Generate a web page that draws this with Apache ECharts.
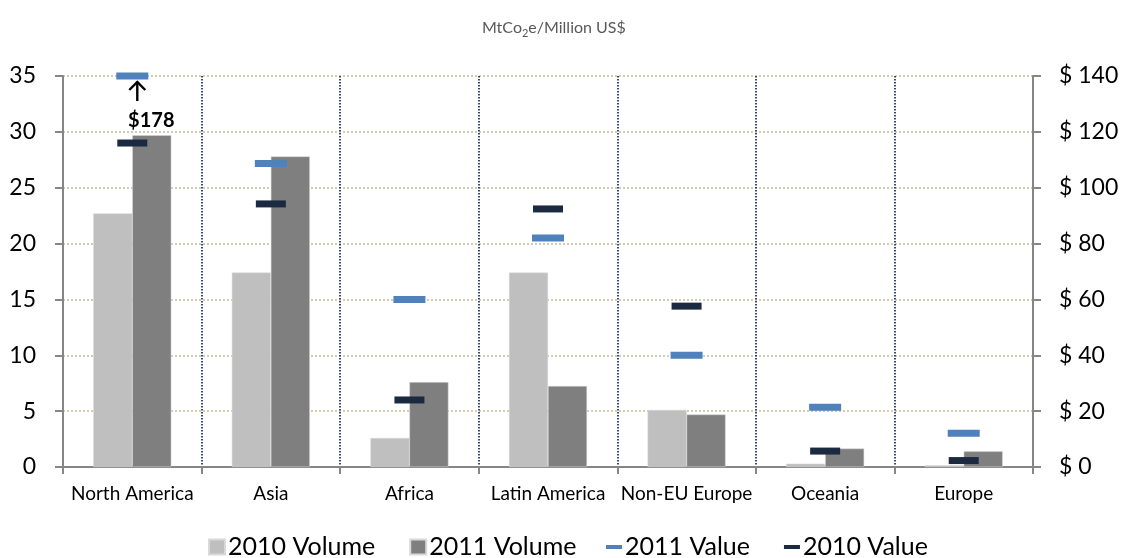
<!DOCTYPE html>
<html>
<head>
<meta charset="utf-8">
<script src="https://cdn.jsdelivr.net/npm/echarts@6/dist/echarts.min.js"></script>
<style>
html,body{margin:0;padding:0;background:#fff;}
#c{width:1122px;height:558px;}
</style>
</head>
<body>
<div id="c"></div>
<script>
var categories = ['North America', 'Asia', 'Africa', 'Latin America', 'Non-EU Europe', 'Oceania', 'Europe'];
var volume2010 = [22.7, 17.4, 2.6, 17.4, 5.1, 0.3, 0.15];
var volume2011 = [29.7, 27.8, 7.6, 7.25, 4.7, 1.65, 1.4];
var value2011 = [178, 108.7, 60, 82, 40, 21.4, 12.1];
var value2010 = [116, 94.2, 24, 92.4, 57.6, 5.7, 2.3];
var leftTicks = [0, 35, 5];
var rightTicks = [0, 140, 20];

var FONT = 'Lato, "Open Sans", sans-serif';
var rightMax = rightTicks[1];

var chart = echarts.init(document.getElementById('c'), null, {renderer: 'canvas'});

var val2011Data = value2011.map(function (v, i) {
  var item = {value: Math.min(v, rightMax)};
  if (v > rightMax) {
    item.label = {
      show: true, position: 'bottom', distance: 31, offset: [19, 0],
      formatter: '$' + v, fontFamily: FONT, fontWeight: 'bold', fontSize: 20, color: '#000'
    };
  }
  return item;
});

var option = {
  animation: false,
  textStyle: {fontFamily: FONT},
  title: {
    text: '{a|MtCo}{s|2}{a|e/Million US$}',
    left: 477, top: 15,
    textStyle: {
      fontWeight: 'normal',
      rich: {
        a: {fontSize: 16, color: '#595959', fontFamily: FONT, fontWeight: 'normal', verticalAlign: 'bottom'},
        s: {fontSize: 11, color: '#595959', fontFamily: FONT, fontWeight: 'normal', verticalAlign: 'bottom', padding: [0, 0, -3, 0]}
      }
    }
  },
  legend: [{
    data: ['2010 Volume', '2011 Volume'],
    left: 208, top: 534, padding: 0, itemWidth: 16, itemHeight: 15, itemGap: 34,
    icon: 'rect',
    textStyle: {fontSize: 25, lineHeight: 26, color: '#000', fontFamily: FONT, padding: [0, 0, 0, -2]}
  }, {
    data: ['2011 Value', '2010 Value'],
    left: 606, top: 534, padding: 0, itemWidth: 16, itemHeight: 4, itemGap: 34,
    icon: 'rect',
    textStyle: {fontSize: 25, lineHeight: 26, color: '#000', fontFamily: FONT, padding: [0, 0, 0, -2]}
  }],
  grid: {left: 63, right: 89, top: 76, bottom: 91, containLabel: false},
  xAxis: {
    type: 'category',
    data: categories,
    axisLine: {lineStyle: {color: '#868686', width: 2}},
    axisTick: {show: true, interval: 0, length: 7, lineStyle: {color: '#868686', width: 2}},
    axisLabel: {interval: 0, fontSize: 19, color: '#000', margin: 17, fontFamily: FONT},
    splitLine: {show: true, interval: 0, lineStyle: {color: '#1f3864', width: 1.8, type: [1.5, 1.5]}}
  },
  yAxis: [{
    type: 'value', min: leftTicks[0], max: leftTicks[1], interval: leftTicks[2],
    axisLine: {show: true, lineStyle: {color: '#868686', width: 2}},
    axisTick: {show: true, length: 8, lineStyle: {color: '#868686', width: 2}},
    axisLabel: {fontSize: 23, color: '#000', margin: 27, fontFamily: FONT},
    splitLine: {show: true, lineStyle: {color: '#c4bd97', width: 1.5, type: [2, 2]}}
  }, {
    type: 'value', min: rightTicks[0], max: rightTicks[1], interval: rightTicks[2],
    axisLine: {show: true, lineStyle: {color: '#868686', width: 2}},
    axisTick: {show: true, length: 8, lineStyle: {color: '#868686', width: 2}},
    axisLabel: {fontSize: 23, color: '#000', margin: 26, fontFamily: FONT, formatter: '$ {value}'},
    splitLine: {show: false}
  }],
  series: [{
    name: '2010 Volume', type: 'bar', data: volume2010, yAxisIndex: 0,
    barWidth: 39, barGap: '0%',
    itemStyle: {color: '#bfbfbf', borderColor: '#d9d9d9', borderWidth: 0.5}
  }, {
    name: '2011 Volume', type: 'bar', data: volume2011, yAxisIndex: 0,
    barWidth: 39, barGap: '0%',
    itemStyle: {color: '#7f7f7f', borderColor: '#d9d9d9', borderWidth: 0.5}
  }, {
    name: '2011 Value', type: 'scatter', data: val2011Data, yAxisIndex: 1,
    symbol: 'rect', symbolSize: [32, 7], clip: false, z: 5,
    itemStyle: {color: '#4f81bd', opacity: 1}
  }, {
    name: '2010 Value', type: 'scatter', data: value2010, yAxisIndex: 1,
    symbol: 'rect', symbolSize: [30, 7], clip: false, z: 5,
    itemStyle: {color: '#1b2a41', opacity: 1}
  }]
};
chart.setOption(option);

// Arrow under any capped marker, placed from the axis scale
var graphics = [];
value2011.forEach(function (v, i) {
  if (v > rightMax) {
    var p = chart.convertToPixel({xAxisIndex: 0, yAxisIndex: 1}, [i, rightMax]);
    var x = p[0] + 5, yTop = p[1] + 6, yBot = p[1] + 25;
    graphics.push({
      type: 'polyline', z: 10,
      shape: {points: [[x, yBot], [x, yTop]]},
      style: {stroke: '#000', lineWidth: 2.4, fill: null}
    });
    graphics.push({
      type: 'polyline', z: 10,
      shape: {points: [[x - 8, yTop + 8], [x, yTop], [x + 8, yTop + 8]]},
      style: {stroke: '#000', lineWidth: 2.4, fill: null}
    });
  }
});
chart.setOption({graphic: graphics});
</script>
</body>
</html>
